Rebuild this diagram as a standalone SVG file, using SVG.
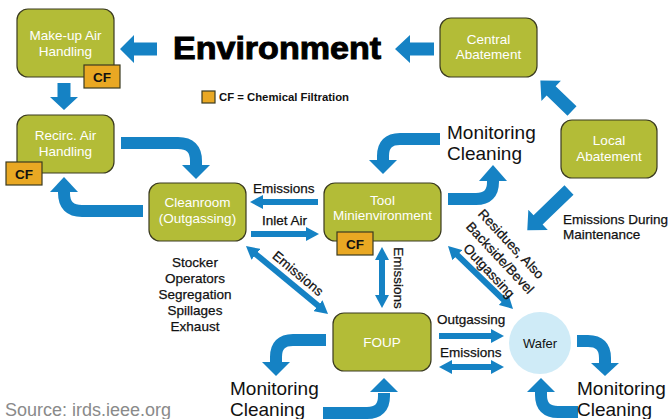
<svg xmlns="http://www.w3.org/2000/svg" width="672" height="419" viewBox="0 0 672 419">
<defs>
<style>
.box{fill:#B3BC37;stroke:#3b3b20;stroke-width:1.2}
.cf{fill:#E9A823;stroke:#3b3b20;stroke-width:1.2}
.bt{font-family:"Liberation Sans",Arial,sans-serif;font-size:13.5px;fill:#fff;text-anchor:middle}
.cft{font-family:"Liberation Sans",Arial,sans-serif;font-size:13.5px;font-weight:bold;fill:#111;text-anchor:middle}
.lbl{font-family:"Liberation Sans",Arial,sans-serif;font-size:13.5px;fill:#111;stroke:#111;stroke-width:0.25}
.mc{font-family:"Liberation Sans",Arial,sans-serif;font-size:19px;fill:#111}
.blk{fill:#1582C4}
.crv{fill:none;stroke:#1582C4;stroke-width:12}
.thin{stroke:#1582C4;stroke-width:6}
</style>
<marker id="ah" markerWidth="13" markerHeight="14" refX="1" refY="7" orient="auto-start-reverse" markerUnits="userSpaceOnUse">
<path d="M0,0 L13,7 L0,14 z" fill="#1582C4"/>
</marker>
</defs>
<rect width="672" height="419" fill="#fff"/>

<g id="title">
<text x="173" y="59" font-family="'Liberation Sans',Arial,sans-serif" font-size="32" font-weight="bold" fill="#000" stroke="#000" stroke-width="1" textLength="208" lengthAdjust="spacingAndGlyphs">Environment</text>
</g>
<g id="legend">
<rect x="202" y="91" width="13" height="12" class="cf"/>
<text x="219" y="101" font-family="'Liberation Sans',Arial,sans-serif" font-size="11" font-weight="bold" fill="#111" textLength="130" lengthAdjust="spacingAndGlyphs">CF = Chemical Filtration</text>
</g>

<g id="connectors">
<polygon class="blk" points="120,49 134,35 134,42.5 157,42.5 157,55.5 134,55.5 134,63"/>
<polygon class="blk" points="395,49 410,35 410,42.5 434,42.5 434,55.5 410,55.5 410,63"/>
<polygon class="blk" points="64,110 50,97 57.5,97 57.5,83 70.5,83 70.5,97 78,97"/>
<polygon class="blk" transform="translate(572,111) rotate(-136)" points="0,-6.5 29,-6.5 29,-14 44,0 29,14 29,6.5 0,6.5"/>
<polygon class="blk" transform="translate(569,190) rotate(136)" points="0,-6.5 43,-6.5 43,-14 58,0 43,14 43,6.5 0,6.5"/>
<path class="crv" d="M121,143 H178 Q196,143 196,161 V166"/>
<polygon class="blk" points="182,165 210,165 196,179"/>
<path class="crv" d="M143,211 H82 Q64,211 64,193 V191"/>
<polygon class="blk" points="50,192 78,192 64,177"/>
<path class="crv" d="M448,199 H476 Q493,199 493,182 V180"/>
<polygon class="blk" points="479,181 507,181 493,165"/>
<path class="crv" d="M440,139 H400 Q383,139 383,156 V161"/>
<polygon class="blk" points="369,160 397,160 383,174"/>
<path class="crv" d="M326,340 H293 Q276,340 276,357 V363"/>
<polygon class="blk" points="262,362 290,362 276,376"/>
<path class="crv" d="M323,413 H367 Q384,413 384,396 V393"/>
<polygon class="blk" points="370,392 398,392 384,378"/>
<path class="crv" d="M577,341 H588 Q605,341 605,358 V364"/>
<polygon class="blk" points="591,363 619,363 605,376"/>
<path class="crv" d="M578,412 H558 Q541,412 541,395 V392"/>
<polygon class="blk" points="527,392 555,392 541,378"/>
<line class="thin" x1="318" y1="202" x2="262" y2="202" marker-end="url(#ah)"/>
<line class="thin" x1="251" y1="234" x2="307" y2="234" marker-end="url(#ah)"/>
<line class="thin" x1="255.2" y1="253.7" x2="318.8" y2="306.3" marker-start="url(#ah)" marker-end="url(#ah)"/>
<line class="thin" x1="382" y1="259" x2="382" y2="296" marker-start="url(#ah)" marker-end="url(#ah)"/>
<line class="thin" x1="456.6" y1="254.4" x2="504.4" y2="300.6" marker-start="url(#ah)" marker-end="url(#ah)"/>
<line class="thin" x1="439" y1="336" x2="492" y2="336" marker-end="url(#ah)"/>
<line class="thin" x1="451" y1="367" x2="492" y2="367" marker-start="url(#ah)" marker-end="url(#ah)"/>
</g>

<g id="labels">
<text class="lbl" x="253" y="193">Emissions</text>
<text class="lbl" x="262" y="225">Inlet Air</text>
<text class="lbl" text-anchor="middle" transform="translate(295,277) rotate(40)">Emissions</text>
<text class="lbl" text-anchor="middle" transform="translate(394,278) rotate(90)">Emissions</text>
<text class="lbl" text-anchor="middle" transform="translate(507.7,247.1) rotate(47)">Residues, Also</text>
<text class="lbl" text-anchor="middle" transform="translate(496.7,261) rotate(47)">Backside/Bevel</text>
<text class="lbl" text-anchor="middle" transform="translate(485.7,274) rotate(47)">Outgassing</text>
<text class="lbl" x="437" y="324">Outgassing</text>
<text class="lbl" x="440" y="357">Emissions</text>
<text class="lbl" x="563" y="224">Emissions During</text>
<text class="lbl" x="563" y="239">Maintenance</text>
<g text-anchor="middle">
<text class="lbl" x="195" y="267">Stocker</text>
<text class="lbl" x="195" y="283">Operators</text>
<text class="lbl" x="195" y="299">Segregation</text>
<text class="lbl" x="195" y="315">Spillages</text>
<text class="lbl" x="195" y="331">Exhaust</text>
</g>
<text class="mc" x="447" y="139">Monitoring</text>
<text class="mc" x="447" y="160">Cleaning</text>
<text class="mc" x="230" y="395">Monitoring</text>
<text class="mc" x="230" y="416">Cleaning</text>
<text class="mc" x="577" y="395">Monitoring</text>
<text class="mc" x="577" y="416">Cleaning</text>
<text x="5" y="416" font-family="'Liberation Sans',Arial,sans-serif" font-size="18" fill="#8a8a8a">Source: irds.ieee.org</text>
</g>

<g id="makeup">
<rect class="box" x="17" y="9" width="97" height="68" rx="11"/>
<text class="bt" x="65.5" y="40">Make-up Air</text>
<text class="bt" x="65.5" y="56">Handling</text>
<rect class="cf" x="84" y="65" width="36" height="23"/>
<text class="cft" x="102" y="82">CF</text>
</g>
<g id="recirc">
<rect class="box" x="17" y="115" width="97" height="58" rx="11"/>
<text class="bt" x="65.5" y="140">Recirc. Air</text>
<text class="bt" x="65.5" y="156">Handling</text>
<rect class="cf" x="6" y="162" width="36" height="23"/>
<text class="cft" x="24" y="179">CF</text>
</g>
<g id="cleanroom">
<rect class="box" x="149" y="183" width="97" height="58" rx="11"/>
<text class="bt" x="197.5" y="207">Cleanroom</text>
<text class="bt" x="197.5" y="223">(Outgassing)</text>
</g>
<g id="tool">
<rect class="box" x="324" y="183" width="117" height="58" rx="11"/>
<text class="bt" x="382.5" y="205">Tool</text>
<text class="bt" x="382.5" y="220">Minienvironment</text>
<rect class="cf" x="337" y="232" width="36" height="23"/>
<text class="cft" x="355" y="249">CF</text>
</g>
<g id="central">
<rect class="box" x="440" y="18" width="97" height="59" rx="11"/>
<text class="bt" x="488.5" y="44">Central</text>
<text class="bt" x="488.5" y="59">Abatement</text>
</g>
<g id="local">
<rect class="box" x="561" y="120" width="96" height="58" rx="11"/>
<text class="bt" x="609" y="145">Local</text>
<text class="bt" x="609" y="161">Abatement</text>
</g>
<g id="foup">
<rect class="box" x="333" y="313" width="98" height="58" rx="11"/>
<text class="bt" x="382" y="347">FOUP</text>
</g>
<g id="wafer">
<circle cx="540" cy="343" r="31" fill="#CFEBF7"/>
<text x="540" y="348" font-family="'Liberation Sans',Arial,sans-serif" font-size="13" fill="#111" text-anchor="middle">Wafer</text>
</g>
</svg>
